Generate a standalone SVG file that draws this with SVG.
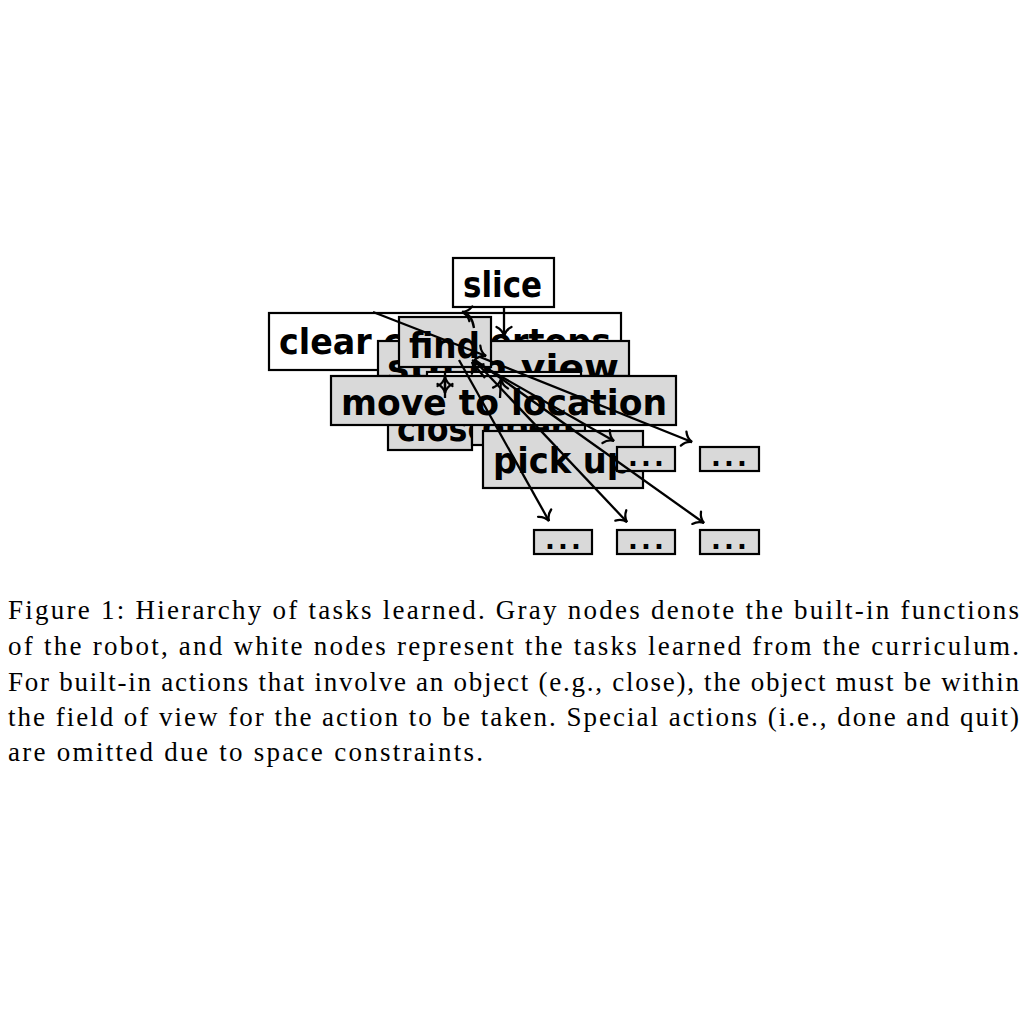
<svg xmlns="http://www.w3.org/2000/svg" width="1024" height="1024" viewBox="0 0 1024 1024">
<style>
.w{fill:#ffffff;stroke:#000;stroke-width:2.2}
.g{fill:#d9d9d9;stroke:#000;stroke-width:2.2}
.t{font-family:"DejaVu Sans","Liberation Sans",sans-serif;font-weight:bold;font-size:35px;fill:#000}
.d{font-family:"DejaVu Sans","Liberation Sans",sans-serif;font-weight:bold;font-size:26px;fill:#000}
.e{fill:none;stroke:#000;stroke-width:2.3}
.cap{font-family:"Liberation Serif","DejaVu Serif",serif;font-size:27px;fill:#000}
</style>
<defs>
<marker id="a" markerUnits="userSpaceOnUse" markerWidth="20" markerHeight="20" viewBox="-12 -10 14 20" refX="0" refY="0" orient="auto">
<path d="M -9 -7.5 C -6.5 -2.5 -2.5 -0.6 0 0 C -2.5 0.6 -6.5 2.5 -9 7.5" fill="none" stroke="#000" stroke-width="2.3" stroke-linecap="round"/>
</marker>
</defs>
<rect width="1024" height="1024" fill="#fff"/>
<g id="node-clear-countertops"><rect class="w" x="269" y="313" width="352" height="57"/><text class="t" x="279" y="354" textLength="332" lengthAdjust="spacingAndGlyphs">clear countertops</text></g>
<g id="node-slice"><rect class="w" x="453" y="258" width="101" height="49"/><text class="t" x="463" y="297" textLength="79" lengthAdjust="spacingAndGlyphs">slice</text></g>
<g id="node-in-view"><rect class="g" x="378" y="341" width="251" height="35"/><text class="t" x="387" y="380" textLength="232" lengthAdjust="spacingAndGlyphs">sth in view</text></g>
<g id="node-find"><rect class="g" x="399" y="317" width="92" height="50"/><text class="t" x="409" y="358" textLength="71" lengthAdjust="spacingAndGlyphs">find</text></g>
<g id="node-hidden"><rect class="w" x="427" y="372" width="154" height="20"/></g>
<g id="node-close"><rect class="g" x="388" y="400" width="84" height="50"/><text class="t" x="397" y="441" textLength="92" lengthAdjust="spacingAndGlyphs">close</text></g>
<g id="node-open"><rect class="g" x="472" y="400" width="113" height="45"/><text class="t" x="482" y="439" textLength="92" lengthAdjust="spacingAndGlyphs">open</text></g>
<g id="node-move-to-location"><rect class="g" x="331" y="376" width="345" height="49"/><text class="t" x="341" y="415" textLength="326" lengthAdjust="spacingAndGlyphs">move to location</text></g>
<g id="node-pick-up"><rect class="g" x="483" y="431" width="160" height="57"/><text class="t" x="493" y="473" textLength="138" lengthAdjust="spacingAndGlyphs">pick up</text></g>
<g id="node-d1"><rect class="g" x="617" y="447" width="58" height="24"/><text class="d" x="646" y="466" text-anchor="middle" textLength="36" lengthAdjust="spacing">...</text></g>
<g id="node-d2"><rect class="g" x="700" y="447" width="59" height="24"/><text class="d" x="729" y="466" text-anchor="middle" textLength="36" lengthAdjust="spacing">...</text></g>
<g id="node-d3"><rect class="g" x="534" y="530" width="58" height="24"/><text class="d" x="563" y="549" text-anchor="middle" textLength="36" lengthAdjust="spacing">...</text></g>
<g id="node-d4"><rect class="g" x="617" y="530" width="58" height="24"/><text class="d" x="646" y="549" text-anchor="middle" textLength="36" lengthAdjust="spacing">...</text></g>
<g id="node-d5"><rect class="g" x="700" y="530" width="59" height="24"/><text class="d" x="729" y="549" text-anchor="middle" textLength="36" lengthAdjust="spacing">...</text></g>
<g id="connectors">
<line class="e" x1="504" y1="307" x2="504" y2="336" marker-end="url(#a)"/>
<line class="e" x1="373" y1="312" x2="486" y2="356" marker-end="url(#a)"/>
<path class="e" d="M 474 328 Q 472 314 462 312" marker-end="url(#a)"/>
<line class="e" x1="445" y1="398" x2="445" y2="377" marker-end="url(#a)"/>
<line class="e" x1="445" y1="372" x2="445" y2="393" marker-end="url(#a)"/>
<line class="e" x1="459" y1="360" x2="549" y2="521" marker-end="url(#a)"/>
<line class="e" x1="474" y1="360" x2="627" y2="522" marker-end="url(#a)"/>
<line class="e" x1="475" y1="360" x2="704" y2="523" marker-end="url(#a)"/>
<line class="e" x1="472" y1="360" x2="614" y2="441" marker-end="url(#a)"/>
<line class="e" x1="480" y1="357" x2="692" y2="442" marker-end="url(#a)"/>
<line class="e" x1="500" y1="398" x2="501" y2="379" marker-end="url(#a)"/>
<line class="e" x1="485" y1="378" x2="472" y2="362" marker-end="url(#a)"/>
</g>
<g id="caption">
<text class="cap" x="8" y="619" textLength="1011" lengthAdjust="spacing">Figure 1: Hierarchy of tasks learned. Gray nodes denote the built-in functions</text>
<text class="cap" x="8" y="655" textLength="1011" lengthAdjust="spacing">of the robot, and white nodes represent the tasks learned from the curriculum.</text>
<text class="cap" x="8" y="691" textLength="1011" lengthAdjust="spacing">For built-in actions that involve an object (e.g., close), the object must be within</text>
<text class="cap" x="8" y="726" textLength="1011" lengthAdjust="spacing">the field of view for the action to be taken. Special actions (i.e., done and quit)</text>
<text class="cap" x="8" y="761" textLength="475" lengthAdjust="spacing">are omitted due to space constraints.</text>
</g>
</svg>
